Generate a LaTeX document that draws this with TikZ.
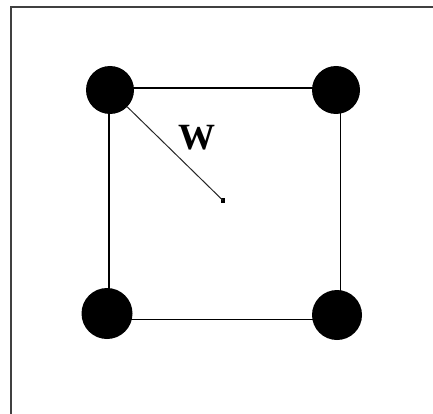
\documentclass[tikz,border=0pt]{standalone}
\usepackage{fontspec}
\setmainfont{Liberation Serif}
\begin{document}
\begin{tikzpicture}[x=1pt,y=-1pt,
  vertex/.style={circle,fill=black,draw=none,minimum size=48pt,inner sep=0pt},
  edge/.style={draw=black,line width=1.2pt},
  frame/.style={draw=black!75,line width=1.6pt},
  centerdot/.style={rectangle,fill=black,minimum size=4.5pt,inner sep=0pt}]
\path[use as bounding box] (0,0) rectangle (433,414);
% frame (only top and left edges visible)
\coordinate (ftr) at (433,7);
\coordinate (ftl) at (11,7);
\coordinate (fbl) at (11,414);
\draw[frame] (ftr) -- (ftl) -- (fbl);
% square corners
\coordinate (c1) at (109,88);
\coordinate (c2) at (340.5,88);
\coordinate (c3) at (340.5,319.5);
\coordinate (c4) at (109,319.5);
\draw[edge] (c1) -- (c2) -- (c3) -- (c4) -- cycle;
% vertices
\node[vertex] (tl) at (110,90) {};
\node[vertex] (tr) at (336,90) {};
\node[vertex,minimum size=50pt] (br) at (337,315) {};
\node[vertex,minimum size=51pt] (bl) at (107,313.5) {};
% centre and radius line
\node[centerdot] (ctr) at (223,200.5) {};
\draw[black!85,line width=1pt] (tl) -- (ctr.center);
\node[font=\fontsize{37}{40}\selectfont\bfseries,inner sep=0pt] (w) at (196.5,137.5) {W};
\end{tikzpicture}
\end{document}
